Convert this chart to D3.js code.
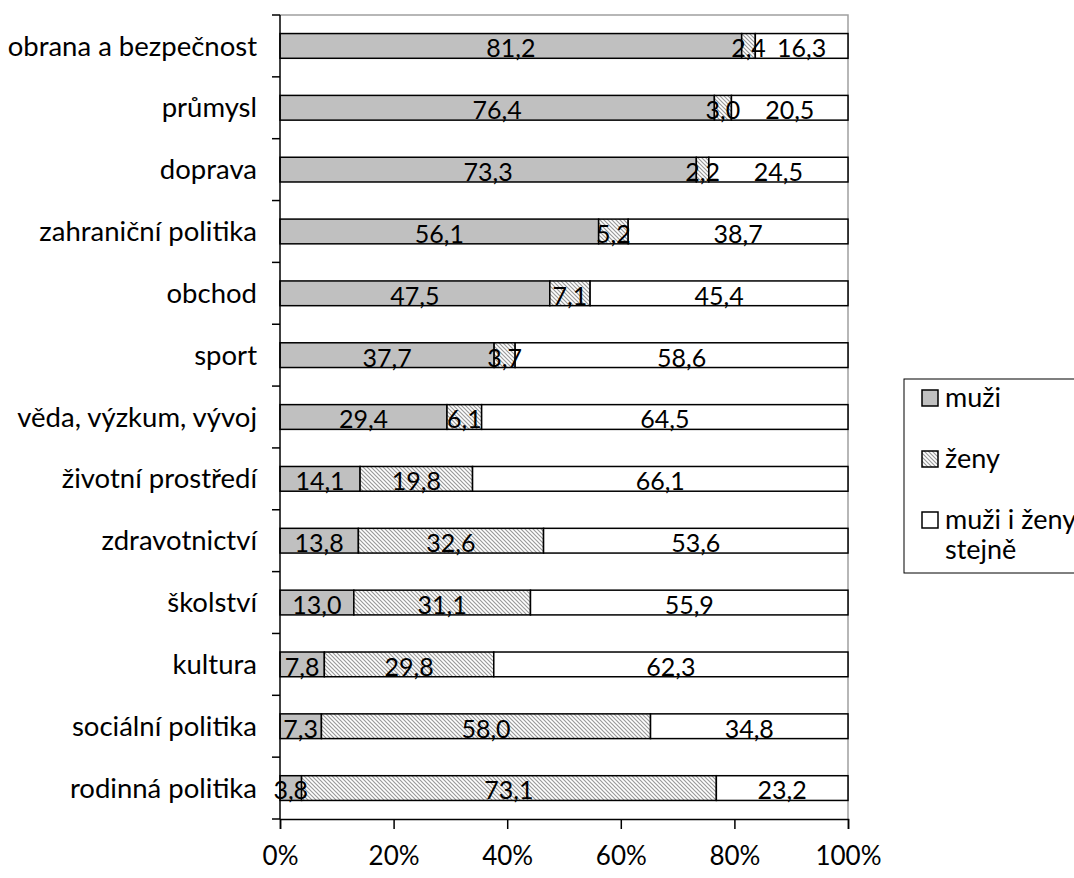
<!DOCTYPE html>
<html>
<head>
<meta charset="utf-8">
<script src="https://cdn.jsdelivr.net/npm/d3@7"></script>
<style>
  body { margin: 0; background: #fff; }
  text { font-family: Lato, "Open Sans", sans-serif; fill: #000; }
</style>
</head>
<body>
<script>
'use-strict';

// categories, top to bottom
let categories = ["obrana a bezpečnost", "průmysl", "doprava", "zahraniční politika",
  "obchod", "sport", "věda, výzkum, vývoj", "životní prostředí", "zdravotnictví",
  "školství", "kultura", "sociální politika", "rodinná politika"];

// series values (percent)
let muzi = [81.2, 76.4, 73.3, 56.1, 47.5, 37.7, 29.4, 14.1, 13.8, 13.0, 7.8, 7.3, 3.8];
let zeny = [2.4, 3.0, 2.2, 5.2, 7.1, 3.7, 6.1, 19.8, 32.6, 31.1, 29.8, 58.0, 73.1];
let stejne = [16.3, 20.5, 24.5, 38.7, 45.4, 58.6, 64.5, 66.1, 53.6, 55.9, 62.3, 34.8, 23.2];

let seriesNames = ["muži", "ženy", "muži i ženy stejně"];
let xTicks = [0, 0.2, 0.4, 0.6, 0.8, 1];

let width = 1074, height = 878;
let plot = { left: 280, right: 848, top: 15, bottom: 819 };
let valueSize = 25, catSize = 27.5, tickSize = 26, legendSize = 27;

let svg = d3.select("body").append("svg")
  .attr("width", width)
  .attr("height", height);

// hatch pattern for "ženy"
let defs = svg.append("defs");
let pat = defs.append("pattern")
  .attr("id", "hatch")
  .attr("patternUnits", "userSpaceOnUse")
  .attr("width", 4)
  .attr("height", 4);
pat.append("rect").attr("width", 4).attr("height", 4).attr("fill", "#fff");
pat.append("path")
  .attr("d", "M-1,-1 L5,5 M-1,3 L1,5 M3,-1 L5,1")
  .attr("stroke", "#9a9a9a")
  .attr("stroke-width", 1.2);

let fills = ["#c0c0c0", "url(#hatch)", "#ffffff"];

// build stacked table (100% stacked, normalised by row)
let rows = categories.map((c, i) => {
  let vals = [muzi[i], zeny[i], stejne[i]];
  let total = d3.sum(vals);
  let x0 = 0;
  return {
    cat: c,
    segs: vals.map((v, k) => {
      let s = { k: k, v: v, x0: x0 / total, x1: (x0 + v) / total };
      x0 += v;
      return s;
    })
  };
});

let x = d3.scaleLinear().domain([0, 1]).range([plot.left, plot.right]);
let y = d3.scaleBand().domain(categories)
  .range([plot.top, plot.bottom])
  .paddingInner(0.6)
  .paddingOuter(0.3);

// plot frame (top and right in gray)
svg.append("path")
  .attr("d", `M${plot.left},${plot.top} H${plot.right} V${plot.bottom}`)
  .attr("fill", "none")
  .attr("stroke", "#a0a0a0")
  .attr("stroke-width", 1.5);

// bars
let g = svg.append("g");
rows.forEach(r => {
  g.selectAll(null)
    .data(r.segs)
    .enter()
    .append("rect")
    .attr("x", d => x(d.x0))
    .attr("y", y(r.cat))
    .attr("width", d => x(d.x1) - x(d.x0))
    .attr("height", y.bandwidth())
    .attr("fill", d => fills[d.k])
    .attr("stroke", "#000")
    .attr("stroke-width", 1.5);
});

// value labels
rows.forEach(r => {
  g.selectAll(null)
    .data(r.segs)
    .enter()
    .append("text")
    .attr("x", d => (x(d.x0) + x(d.x1)) / 2)
    .attr("y", y(r.cat) + y.bandwidth() - 1)
    .attr("text-anchor", "middle")
    .style("font-size", valueSize + "px")
    .text(d => d3.format(".1f")(d.v).replace(".", ","));
});

// left axis with ticks on category boundaries
let step = y.step();
let bounds = d3.range(categories.length + 1).map(i => plot.top + i * step);
svg.append("line")
  .attr("x1", plot.left).attr("x2", plot.left)
  .attr("y1", plot.top).attr("y2", plot.bottom)
  .attr("stroke", "#000").attr("stroke-width", 1.5);
svg.selectAll(".ytick")
  .data(bounds)
  .enter()
  .append("line")
  .attr("x1", plot.left - 8).attr("x2", plot.left)
  .attr("y1", d => d).attr("y2", d => d)
  .attr("stroke", "#000").attr("stroke-width", 1.5);

svg.selectAll(".ylab")
  .data(categories)
  .enter()
  .append("text")
  .attr("x", plot.left - 23)
  .attr("y", d => y(d) + y.bandwidth() / 2)
  .attr("dy", "0.35em")
  .attr("text-anchor", "end")
  .style("font-size", catSize + "px")
  .text(d => d);

// bottom axis
let xAxis = d3.axisBottom(x)
  .tickValues(xTicks)
  .tickSize(10)
  .tickPadding(18)
  .tickFormat(d3.format(".0%"));
let ax = svg.append("g")
  .attr("transform", `translate(0,${plot.bottom})`)
  .call(xAxis);
ax.select(".domain").attr("stroke", "#000").attr("stroke-width", 1.5);
ax.selectAll(".tick line").attr("stroke", "#000").attr("stroke-width", 1.5);
ax.selectAll(".tick text")
  .style("font-family", "Lato, sans-serif")
  .style("font-size", tickSize + "px")
  .attr("fill", "#000");

// legend
let leg = svg.append("g").attr("transform", "translate(904,379)");
leg.append("rect")
  .attr("width", 200)
  .attr("height", 194)
  .attr("fill", "#fff")
  .attr("stroke", "#000")
  .attr("stroke-width", 1);
seriesNames.forEach((name, i) => {
  let yy = 11 + i * 61;
  leg.append("rect")
    .attr("x", 18).attr("y", yy)
    .attr("width", 16).attr("height", 16)
    .attr("fill", fills[i])
    .attr("stroke", "#000")
    .attr("stroke-width", 1.5);
  let t = leg.append("text")
    .attr("x", 41)
    .attr("y", yy + 17)
    .style("font-size", legendSize + "px");
  if (i == 2) {
    t.append("tspan").text("muži i ženy");
    t.append("tspan").attr("x", 41).attr("dy", 30).text("stejně");
  } else {
    t.text(name);
  }
});
</script>
</body>
</html>
